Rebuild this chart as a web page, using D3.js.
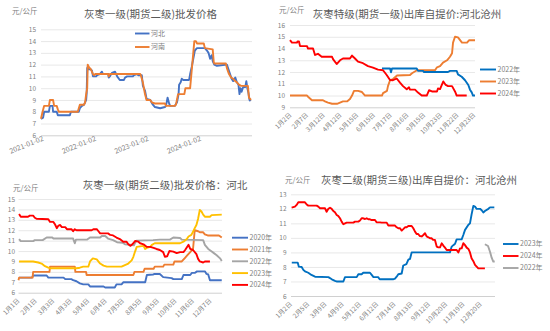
<!DOCTYPE html>
<html><head><meta charset="utf-8">
<script src="https://cdn.jsdelivr.net/npm/d3@7"></script>
<style>
body{margin:0;background:#fff}
svg{display:block}
text{font-family:"Noto Sans CJK SC","Noto Sans",sans-serif}
</style>
</head><body>
<svg id="c" width="550" height="331"></svg>
<script>
// ---------- Panel 1: 灰枣一级(期货二级)批发价格 (decimal year, 元/公斤) ----------
const p1Ticks = [2021, 2022, 2023, 2024];
const p1TickLabels = ["2021-01-02","2022-01-02","2023-01-02","2024-01-02"];
const p1Hebei = [[2021.00,7.4],[2021.04,7.5],[2021.06,8.0],[2021.15,8.0],[2021.17,8.5],[2021.22,8.5],[2021.23,8.0],[2021.30,8.0],[2021.32,7.7],[2021.55,7.7],[2021.57,8.0],[2021.72,8.0],[2021.74,8.3],[2021.78,8.5],[2021.82,8.6],[2021.84,8.8],[2021.86,9.0],[2021.87,9.6],[2021.88,11.7],[2021.89,11.8],[2021.91,11.6],[2021.95,11.6],[2021.97,11.5],[2021.99,11.0],[2022.05,11.0],[2022.07,11.1],[2022.12,11.2],[2022.16,11.4],[2022.18,11.2],[2022.28,11.2],[2022.29,10.9],[2022.31,11.0],[2022.35,11.3],[2022.41,11.4],[2022.45,11.0],[2022.50,10.7],[2022.58,10.7],[2022.60,10.9],[2022.64,11.0],[2022.75,11.0],[2022.77,11.1],[2022.83,11.2],[2022.85,11.1],[2022.92,11.1],[2022.94,10.2],[2022.98,9.8],[2023.01,9.1],[2023.08,9.0],[2023.13,8.6],[2023.17,8.4],[2023.27,8.3],[2023.36,8.4],[2023.38,8.5],[2023.41,9.2],[2023.44,8.7],[2023.46,8.5],[2023.55,8.5],[2023.59,8.8],[2023.62,9.5],[2023.63,10.3],[2023.66,10.5],[2023.68,10.8],[2023.71,10.7],[2023.82,10.7],[2023.84,11.2],[2023.87,11.8],[2023.90,12.5],[2023.93,13.2],[2023.97,13.4],[2024.12,13.4],[2024.16,13.2],[2024.19,13.0],[2024.22,12.5],[2024.25,12.8],[2024.27,12.3],[2024.30,12.0],[2024.35,11.9],[2024.54,12.0],[2024.57,11.6],[2024.60,11.2],[2024.63,10.8],[2024.66,10.6],[2024.70,10.9],[2024.73,10.5],[2024.76,10.3],[2024.78,9.5],[2024.80,10.0],[2024.82,9.7],[2024.85,10.1],[2024.89,10.1],[2024.91,10.6],[2024.93,10.0],[2024.95,9.6],[2024.97,9.0],[2024.99,8.9]];
const p1Henan = [[2021.00,7.4],[2021.03,8.0],[2021.06,8.5],[2021.15,8.5],[2021.17,9.0],[2021.23,9.0],[2021.25,8.5],[2021.30,8.5],[2021.32,8.2],[2021.34,8.0],[2021.70,8.0],[2021.72,8.3],[2021.74,8.6],[2021.82,8.6],[2021.84,8.8],[2021.86,9.5],[2021.88,10.0],[2021.89,12.0],[2021.91,11.8],[2021.95,11.6],[2021.99,11.2],[2022.01,11.1],[2022.03,11.2],[2022.28,11.2],[2022.29,11.0],[2022.31,11.2],[2022.89,11.2],[2022.90,11.1],[2022.94,10.5],[2022.98,9.5],[2023.01,9.0],[2023.08,9.0],[2023.11,8.8],[2023.17,8.7],[2023.36,8.7],[2023.38,8.5],[2023.55,8.5],[2023.57,8.6],[2023.61,9.5],[2023.73,9.5],[2023.75,10.0],[2023.84,10.0],[2023.86,11.0],[2023.88,12.0],[2023.90,13.0],[2023.92,14.0],[2023.95,14.0],[2023.97,13.8],[2024.10,13.8],[2024.12,13.4],[2024.27,13.3],[2024.29,12.2],[2024.30,12.1],[2024.52,12.1],[2024.54,11.7],[2024.58,11.2],[2024.62,10.9],[2024.66,10.8],[2024.70,10.6],[2024.73,10.5],[2024.77,10.3],[2024.81,10.2],[2024.94,10.2],[2024.96,9.2],[2025.00,9.0]];

// ---------- Panel 2: 灰枣特级(期货一级)出库自提价:河北沧州 (trading-day index) ----------
const p2TickLabels = ["1月2日","2月7日","3月12日","4月12日","5月15日","6月15日","7月17日","8月16日","9月15日","10月23日","11月22日","12月23日"];
const p2Y2022 = [[121,12.3],[131.6,12.3],[132.9,11.98],[134.2,12.3],[166.7,12.3],[168.4,12.1],[175,12.1],[176.3,12.0],[207.9,12.0],[210.5,12.1],[219.3,12.1],[221,11.8],[225.9,11.6],[230.3,11.3],[234.6,10.9],[236.8,10.5],[239.1,10.27],[240.8,10.0],[243.4,10.0]];
const p2Y2023 = [[0,10.0],[22.4,10.0],[23.7,9.9],[28.9,9.6],[43.4,9.6],[46,9.5],[50,9.4],[55.3,9.3],[61.8,9.3],[65.8,9.4],[69.7,9.5],[75,9.5],[78.9,9.7],[81.6,10.0],[84.2,10.4],[89.5,10.4],[94.7,10.3],[98.7,10.0],[121,10.0],[122.4,10.2],[127.6,10.4],[128.9,10.8],[131.6,11.3],[135.5,11.4],[140.8,11.7],[157.9,11.75],[160.5,11.9],[163.2,12.0],[167.1,12.15],[190.8,12.15],[193.4,12.4],[197.4,12.5],[201.3,12.8],[206.6,13.0],[210.5,13.3],[213.2,13.6],[214.5,14.5],[217.1,15.0],[221,14.95],[226.3,14.5],[232.9,14.5],[235.5,14.7],[243.4,14.7]];
const p2Y2024 = [[0,14.72],[2.6,14.5],[9.2,14.5],[9.9,14.6],[11.8,14.6],[13.2,14.2],[22.4,14.2],[23.7,14.0],[30.3,14.0],[32.9,13.45],[36.8,13.55],[41.7,13.3],[55.3,13.3],[56.6,13.1],[61.4,12.68],[65.8,13.0],[69.7,13.15],[78.9,13.15],[81.6,13.4],[85.5,13.15],[89.5,12.88],[96,12.75],[102.6,12.5],[109.2,12.37],[115.8,12.2],[122.4,12.15],[127.2,11.75],[131.6,11.32],[135.5,11.3],[140.4,11.45],[144.7,11.1],[148.7,10.8],[153.6,10.53],[156.6,10.7],[157.9,10.5],[164.5,10.5],[168.4,10.25],[173.3,10.0],[179.9,10.0],[182.9,10.45],[186.8,10.35],[193.4,10.35],[194.7,10.6],[197.4,10.55],[201.7,11.2],[204.9,10.9],[207.9,10.8],[213.2,10.8],[217.1,10.35],[219.3,10.0],[232.5,10.0]];

// ---------- Panel 3: 灰枣一级(期货二级)批发价格：河北 (day of year) ----------
const p3TickLabels = ["1月1日","2月1日","3月3日","4月3日","5月4日","6月4日","7月5日","8月5日","9月5日","10月6日","11月6日","12月7日"];
const p3Y2020 = [[1,7.45],[24,7.45],[26,7.65],[50,7.65],[53,7.45],[80,7.45],[83,7.3],[94,7.3],[97,7.2],[103,7.1],[109,6.9],[115,6.8],[124,6.8],[127,6.6],[151,6.6],[154,6.5],[171,6.5],[174,6.8],[183,6.8],[186,7.0],[225,7.0],[228,7.7],[239,7.75],[242,7.8],[251,7.8],[257,7.5],[272,7.4],[275,7.3],[290,7.3],[293,7.7],[305,7.7],[308,7.9],[313,7.9],[317,8.05],[331,8.05],[334,7.8],[337,7.75],[340,7.2],[361,7.2]];
const p3Y2021 = [[0,7.2],[1,7.45],[25,7.45],[26,8.0],[55,8.0],[56,8.5],[100,8.5],[101,8.0],[120,8.0],[121,7.7],[204,7.7],[206,8.0],[222,8.0],[224,8.3],[240,8.3],[242,8.5],[257,8.5],[259,8.7],[275,8.7],[277,9.0],[290,9.0],[295,9.3],[300,9.6],[305,9.9],[310,10.2],[313,12.0],[319,11.9],[322,11.8],[328,11.8],[331,11.6],[336,11.5],[356,11.5],[361,11.3]];
const p3Y2022 = [[1,11.15],[4,10.95],[26,10.95],[29,11.05],[43,11.05],[50,11.3],[60,11.3],[62,11.2],[97,11.2],[100,10.75],[102,11.1],[122,11.1],[127,11.3],[145,11.3],[148,11.45],[154,11.45],[159,11.2],[168,11.05],[175,10.85],[185,10.8],[189,10.65],[198,10.6],[205,10.55],[209,11.0],[239,11.05],[251,11.1],[269,11.1],[275,11.3],[287,11.25],[290,11.1],[328,11.05],[331,10.6],[337,10.2],[342,10.0],[347,9.8],[352,9.6],[358,9.3],[361,9.05]];
const p3Y2023 = [[1,9.0],[26,9.0],[35,8.9],[41,8.8],[47,8.55],[53,8.4],[56,8.35],[103,8.35],[109,8.4],[115,8.5],[124,8.5],[127,9.0],[132,9.3],[139,9.2],[145,8.8],[151,8.6],[157,8.5],[183,8.5],[189,8.65],[195,8.8],[201,9.1],[204,9.45],[207,9.95],[210,10.4],[222,10.5],[225,10.2],[228,10.3],[234,10.4],[237,10.6],[242,10.75],[287,10.75],[293,10.9],[299,11.15],[302,11.4],[307,11.55],[310,11.85],[313,12.2],[316,12.5],[319,13.1],[322,13.95],[325,13.8],[328,13.5],[331,13.3],[340,13.3],[343,13.45],[361,13.5]];
const p3Y2024 = [[1,13.55],[4,13.3],[17,13.3],[20,13.4],[26,13.4],[29,13.2],[32,13.1],[53,13.05],[56,12.8],[62,12.8],[65,12.55],[68,12.2],[71,12.45],[74,12.5],[77,12.3],[83,12.3],[86,12.1],[94,12.1],[97,11.9],[100,12.1],[103,12.0],[130,12.0],[133,12.1],[139,12.1],[142,11.9],[145,11.7],[159,11.7],[163,11.55],[168,11.5],[174,11.3],[180,11.15],[186,10.9],[192,10.9],[195,10.65],[199,10.5],[204,10.75],[207,10.97],[213,10.9],[216,10.75],[222,10.65],[228,10.4],[234,10.4],[240,10.3],[245,10.2],[251,10.1],[257,9.9],[260,9.45],[264,9.5],[268,10.0],[275,9.95],[281,9.8],[287,9.9],[293,9.9],[296,10.1],[302,10.6],[305,10.2],[310,10.1],[316,9.7],[319,9.25],[322,9.0],[328,8.9],[331,9.0],[340,9.0]];

// ---------- Panel 4: 灰枣二级(期货三级)出库自提价：河北沧州 (trading-day index) ----------
const p4TickLabels = ["1月2日","2月5日","3月9日","4月9日","5月12日","6月12日","7月14日","8月13日","9月12日","10月20日","11月19日","12月20日"];
const p4Y2023 = [[1,8.3],[8.5,8.3],[10,8.02],[13.6,8.0],[15.7,7.8],[17.8,7.7],[22,7.6],[26,7.45],[30.6,7.33],[47.6,7.3],[52,7.15],[56,7.04],[58,7.0],[66.7,7.0],[68.8,7.3],[83.7,7.3],[85.8,7.5],[90,7.5],[92,7.6],[100.6,7.6],[102.8,7.45],[105,7.3],[111,7.3],[113,7.15],[130,7.15],[132.5,7.2],[134.6,7.33],[136.7,7.5],[141,7.55],[143,8.1],[147,8.2],[149.5,8.5],[151.6,8.55],[153.7,9.0],[202.5,9.0],[204.7,9.4],[206.8,9.5],[209,9.6],[211,9.9],[217.4,9.9],[219.5,10.2],[221.7,10.55],[226,10.9],[228,11.0],[230,11.6],[232.3,12.2],[234.4,12.15],[236.5,12.0],[240.8,12.0],[242.9,11.9],[245,11.75],[247,11.85],[251.4,12.0],[253.5,12.1],[259,12.1]];
const p4Y2024 = [[0.8,12.08],[5,12.15],[7.2,12.27],[9.3,12.45],[17.8,12.45],[20,12.3],[22,12.22],[32.7,12.22],[34.8,12.15],[37,12.04],[43.3,12.04],[45.4,11.8],[47.6,12.0],[49.7,12.08],[51.8,12.0],[53.9,11.85],[56,11.76],[58.2,11.58],[60.3,11.5],[62.4,11.35],[64.5,11.12],[66.7,10.94],[68.8,11.0],[70.9,11.05],[79.4,11.05],[81.5,11.12],[85.8,11.12],[87.9,11.2],[90,11.35],[92,11.35],[94.3,11.3],[96.4,11.35],[98.5,11.28],[100.6,11.28],[102.8,11.23],[107,11.23],[109,11.07],[113.4,11.07],[115.5,11.05],[121.9,11.05],[124,10.85],[132.5,10.85],[134.6,10.73],[136.7,10.66],[138.9,10.66],[141,10.5],[143,10.6],[145.2,10.73],[147.3,10.73],[149.5,10.82],[153.7,10.82],[155.8,10.66],[158,10.43],[160,10.27],[162,10.27],[164,10.13],[166.5,10.1],[168.6,10.2],[170.7,10.32],[172.8,10.1],[175,10.04],[177,9.97],[179,9.97],[181.3,9.86],[183.4,9.86],[185.6,9.4],[187.7,9.35],[189.8,9.35],[192,9.63],[194,9.47],[196.2,9.33],[198.3,9.17],[211,9.17],[213.2,9.0],[215.3,9.28],[217.4,9.28],[219.5,9.63],[221.7,9.5],[223.8,9.33],[226,9.24],[228,9.0],[230,8.6],[232.3,8.4],[234.4,8.14],[236.5,8.02],[238.6,7.9],[247,7.9]];
const p4Y2022 = [[247,9.56],[251,9.44],[253.5,9.05],[255.6,8.64],[257.7,8.37],[259.5,8.37]];

const dayTicks = d3.range(0, 342, 31);   // 12 labels, every 31 days
const idxTicks = d3.range(0, 243, 22);   // 12 labels, every 22 trading days

const svg = d3.select("#c");
const GRID = "#e2e2e2", AXIS = "#d0d0d0", LBL = "#7f7f7f", TITLE = "#595959";

function panel(o) {
  const g = svg.append("g");
  const [x0, x1] = o.plotX;
  // y axis with gridlines
  const ya = g.append("g").attr("transform", `translate(${x0},0)`)
    .call(d3.axisLeft(o.y).tickValues(o.yTicks).tickSize(-(x1 - x0)).tickPadding(o.yPad).tickFormat(d3.format("d")));
  ya.select(".domain").remove();
  ya.selectAll("line").attr("stroke", d => d === o.yTicks[0] ? AXIS : GRID).attr("stroke-width", d => d === o.yTicks[0] ? 1 : 0.8);
  ya.selectAll("text").attr("fill", LBL).attr("font-size", 6.5);
  // x axis labels
  const yb = o.y(o.yTicks[0]);
  const xa = g.append("g").attr("transform", `translate(0,${yb})`)
    .call(d3.axisBottom(o.x).tickValues(o.xTicks).tickSize(0).tickFormat((d, i) => o.xLabels[i]));
  xa.select(".domain").remove();
  xa.selectAll("text").attr("fill", LBL).attr("font-size", o.xFont)
    .attr("y", 0).attr("dy", 0).attr("text-anchor", "end")
    .attr("transform", `translate(${o.xOff[0]},${o.xOff[1]}) rotate(${o.rot})`);
  // series
  const line = d3.line().x(d => o.x(d[0])).y(d => o.y(d[1]));
  o.series.forEach(s => {
    g.append("path").datum(s.data).attr("d", line).attr("fill", "none")
      .attr("stroke", s.color).attr("stroke-width", 1.9).attr("stroke-linejoin", "round");
  });
  // title & unit
  g.append("text").attr("x", o.title[1]).attr("y", o.title[2]).attr("text-anchor", "middle")
    .attr("font-size", 10.5).attr("fill", TITLE).text(o.title[0]);
  g.append("text").attr("x", o.unit[0]).attr("y", o.unit[1]).attr("font-size", 7.5)
    .attr("fill", LBL).text("元/公斤");
  // legend
  o.legend.items.forEach((it, i) => {
    const ly = o.legend.y0 + i * o.legend.dy;
    g.append("line").attr("x1", o.legend.x).attr("x2", o.legend.x + o.legend.w)
      .attr("y1", ly).attr("y2", ly).attr("stroke", it.color).attr("stroke-width", 1.9);
    g.append("text").attr("x", o.legend.x + o.legend.w + 1.5).attr("y", ly).attr("dy", "0.35em")
      .attr("font-size", 7).attr("fill", LBL).text(it.name);
  });
}

const C = {blue:"#4472C4", orange:"#ED7D31", gray:"#A5A5A5", yellow:"#FFC000", red:"#FF0000", dblue:"#0070C0"};

// Panel 1
panel({
  x: d3.scaleLinear().domain([2021, 2025.02]).range([41, 252.1]),
  y: d3.scaleLinear().domain([6, 15]).range([135.3, 29.3]),
  plotX: [41, 252], yTicks: d3.range(6, 16), yPad: 5,
  xTicks: p1Ticks, xLabels: p1TickLabels, xFont: 7, rot: -22, xOff: [2.5, 5],
  series: [{data: p1Hebei, color: C.blue}, {data: p1Henan, color: C.orange}],
  title: ["灰枣一级(期货二级)批发价格", 150.5, 17.5], unit: [12, 13.5],
  legend: {x: 135, w: 14.5, y0: 33.5, dy: 13.5, items: [{name:"河北", color:C.blue},{name:"河南", color:C.orange}]}
});
// Panel 2
panel({
  x: d3.scaleLinear().domain([0, 243.4]).range([290, 475]),
  y: d3.scaleLinear().domain([9, 16]).range([107.3, 25]),
  plotX: [290, 475], yTicks: d3.range(9, 17), yPad: 5,
  xTicks: idxTicks, xLabels: p2TickLabels, xFont: 6.5, rot: -45, xOff: [1.5, 8],
  series: [{data: p2Y2023, color: C.orange}, {data: p2Y2022, color: C.dblue}, {data: p2Y2024, color: C.red}],
  title: ["灰枣特级(期货一级)出库自提价:河北沧州", 407, 18], unit: [279, 13],
  legend: {x: 480, w: 16, y0: 69.5, dy: 12, items: [{name:"2022年", color:C.dblue},{name:"2023年", color:C.orange},{name:"2024年", color:C.red}]}
});
// Panel 3
panel({
  x: d3.scaleLinear().domain([0, 365]).range([18.5, 224]),
  y: d3.scaleLinear().domain([6, 15]).range([292.7, 199]),
  plotX: [18.5, 222], yTicks: d3.range(6, 16), yPad: 3.5,
  xTicks: dayTicks, xLabels: p3TickLabels, xFont: 6.5, rot: -45, xOff: [1, 8.5],
  series: [{data: p3Y2020, color: C.blue}, {data: p3Y2021, color: C.orange}, {data: p3Y2022, color: C.gray}, {data: p3Y2023, color: C.yellow}, {data: p3Y2024, color: C.red}],
  title: ["灰枣一级(期货二级)批发价格：河北", 165, 189], unit: [13, 190.5],
  legend: {x: 232, w: 16, y0: 237.7, dy: 11.8, items: [{name:"2020年", color:C.blue},{name:"2021年", color:C.orange},{name:"2022年", color:C.gray},{name:"2023年", color:C.yellow},{name:"2024年", color:C.red}]}
});
// Panel 4
panel({
  x: d3.scaleLinear().domain([0, 260]).range([291, 495.1]),
  y: d3.scaleLinear().domain([6, 13]).range([296, 194.3]),
  plotX: [291, 495], yTicks: d3.range(6, 14), yPad: 4.5,
  xTicks: idxTicks, xLabels: p4TickLabels, xFont: 6.5, rot: -45, xOff: [1, 8.5],
  series: [{data: p4Y2023, color: C.dblue}, {data: p4Y2024, color: C.red}, {data: p4Y2022, color: C.gray}],
  title: ["灰枣二级(期货三级)出库自提价：河北沧州", 419, 184], unit: [285, 183],
  legend: {x: 503, w: 15.5, y0: 244, dy: 12, items: [{name:"2023年", color:C.dblue},{name:"2024年", color:C.red},{name:"2022年", color:C.gray}]}
});
</script>
</body></html>
